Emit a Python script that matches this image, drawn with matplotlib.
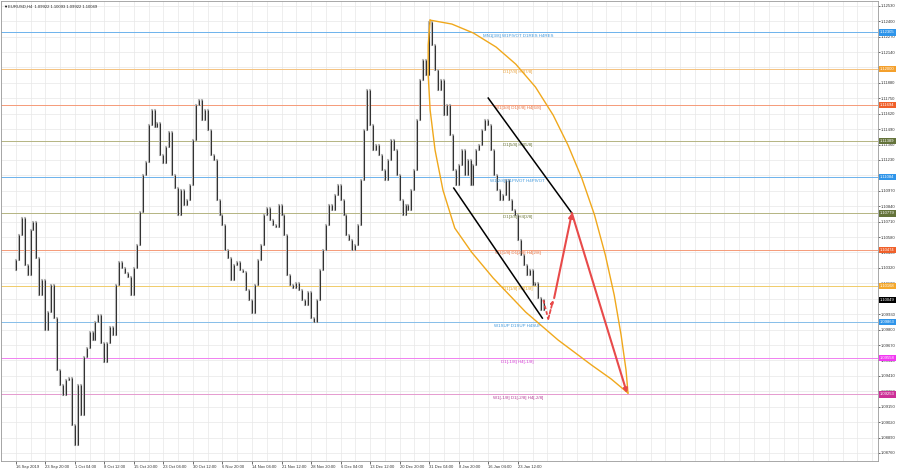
import numpy as np
import matplotlib.pyplot as plt
from matplotlib import transforms

plt.rcParams['font.family'] = ['Liberation Sans', 'DejaVu Sans']

# ---------------- data ----------------
symbol_line = 'EURUSD,H4  1.09922 1.10093 1.09922 1.10049'

first_open = 1.10300
closes = [
    1.10386, 1.10597, 1.10740, 1.10344, 1.10260, 1.10639, 1.10707, 1.10403, 1.10091, 1.10218,
    1.09796, 1.09948, 1.10175, 1.09897, 1.09459, 1.09332, 1.09248, 1.09375, 1.09391, 1.08995,
    1.08827, 1.09332, 1.09080, 1.09569, 1.09644, 1.09779, 1.09712, 1.09864, 1.09923, 1.09687,
    1.09526, 1.09687, 1.09821, 1.09754, 1.10175, 1.10369, 1.10319, 1.10277, 1.10243, 1.10091,
    1.10319, 1.10513, 1.10791, 1.11103, 1.11212, 1.11524, 1.11651, 1.11507, 1.11541, 1.11271,
    1.11204, 1.11339, 1.11465, 1.11103, 1.10993, 1.10766, 1.10976, 1.10850, 1.10892, 1.11018,
    1.11398, 1.11693, 1.11735, 1.11566, 1.11651, 1.11482, 1.11271, 1.11229, 1.10892, 1.10766,
    1.10681, 1.10471, 1.10403, 1.10218, 1.10344, 1.10369, 1.10302, 1.10285, 1.10133, 1.10049,
    1.09939, 1.10175, 1.10386, 1.10513, 1.10766, 1.10825, 1.10723, 1.10681, 1.10664, 1.10850,
    1.10766, 1.10597, 1.10260, 1.10175, 1.10150, 1.10192, 1.10133, 1.10049, 1.10007, 1.10116,
    1.09897, 1.09864, 1.10049, 1.10302, 1.10471, 1.10681, 1.10850, 1.10808, 1.10934, 1.11018,
    1.10892, 1.10766, 1.10597, 1.10555, 1.10471, 1.10513, 1.10681, 1.11061, 1.11482, 1.11819,
    1.11524, 1.11314, 1.11356, 1.11271, 1.11145, 1.11061, 1.11229, 1.11398, 1.11314, 1.11103,
    1.10892, 1.10766, 1.10850, 1.10808, 1.10976, 1.11145, 1.11566, 1.11904, 1.12072, 1.11946,
    1.12393, 1.12199, 1.11988, 1.11819, 1.11904, 1.11609, 1.11693, 1.11440, 1.11145, 1.11018,
    1.11187, 1.11314, 1.11103, 1.11229, 1.11018, 1.11187, 1.11314, 1.11356, 1.11482, 1.11566,
    1.11524, 1.11314, 1.11103, 1.10976, 1.10892, 1.10934, 1.11061, 1.10892, 1.10808, 1.10766,
    1.10555, 1.10428, 1.10344, 1.10260, 1.10302, 1.10175, 1.10192, 1.10066, 1.09965, 1.10049,
]

date_labels = ['16 Sep 2019', '23 Sep 20:00', '1 Oct 04:00', '8 Oct 12:00', '15 Oct 20:00',
               '23 Oct 04:00', '30 Oct 12:00', '6 Nov 20:00', '14 Nov 04:00', '21 Nov 12:00',
               '28 Nov 20:00', '6 Dec 04:00', '13 Dec 12:00', '20 Dec 20:00', '31 Dec 04:00',
               '8 Jan 20:00', '16 Jan 04:00', '23 Jan 12:00']

price_ticks = [1.08760, 1.08890, 1.09020, 1.09150, 1.09280, 1.09410, 1.09540, 1.09670,
               1.09800, 1.09930, 1.10060, 1.10190, 1.10320, 1.10450, 1.10580, 1.10710,
               1.10840, 1.10970, 1.11100, 1.11230, 1.11360, 1.11490, 1.11620, 1.11750,
               1.11880, 1.12010, 1.12140, 1.12270, 1.12400, 1.12530]

levels = [1.12305, 1.12000, 1.11694, 1.11389, 1.11084, 1.10779,
          1.10474, 1.10168, 1.09863, 1.09558, 1.09253]
level_texts = ['MN1[3/8] W1PIVOT D1RES H4RES', 'D1[7/8] H4[7/8]', 'W1[3/8] D1[6/8] H4[6/8]',
               'D1[5/8] H4[5/8]', 'W1[2/8] D1PIVOT H4PIVOT', 'D1[3/8] H4[3/8]',
               'W1[1/8] D1[2/8] H4[2/8]', 'D1[1/8] H4[1/8]', 'W1SUP D1SUP H4SUP',
               'D1[-1/8] H4[-1/8]', 'W1[-1/8] D1[-2/8] H4[-2/8]']
level_line_colors = ['#6cb2ec', '#f5c27e', '#f59a78', '#b4b482', '#6cb2ec', '#b4b482',
                     '#f59a78', '#f0cc6a', '#86bde9', '#f080f0', '#e59acf']
level_text_colors = ['#3d97dc', '#e9a23c', '#e8703e', '#6f7a3e', '#3d97dc', '#6f7a3e',
                     '#e8703e', '#e2a434', '#3d97dc', '#d63ad6', '#b43c96']
level_tag_colors = ['#2f95ea', '#f4a02c', '#f0602a', '#64733a', '#2f95ea', '#64733a',
                    '#f0602a', '#f4a82c', '#2f95ea', '#f238f2', '#cc2f97']
last_price = 1.10049

# objects drawn on the chart, in (bar index, price)
channel_upper_x = [160.0, 188.33]
channel_upper_p = [1.11752, 1.10782]
channel_lower_x = [148.33, 178.33]
channel_lower_p = [1.10993, 1.09897]

arc_outer_x = [140.33, 147.67, 155.0, 162.67, 169.33, 176.0, 182.0, 187.0, 191.67,
               196.0, 199.67, 202.67, 205.0, 206.67, 207.33]
arc_outer_p = [1.12409, 1.12376, 1.12300, 1.12182, 1.12038, 1.11845, 1.11608, 1.11356, 1.11078,
               1.10766, 1.10428, 1.10091, 1.09754, 1.09459, 1.09265]
arc_inner_x = [140.33, 139.67, 139.67, 140.33, 142.0, 144.67, 148.67, 154.33, 161.67,
               172.67, 183.67, 195.0, 201.67, 207.33]
arc_inner_p = [1.12409, 1.12199, 1.11946, 1.11651, 1.11313, 1.10976, 1.10656, 1.10454, 1.10235,
               1.09948, 1.09712, 1.09501, 1.09383, 1.09265]

forecast_dash_x = [178.67, 180.33, 182.0]
forecast_dash_p = [1.10049, 1.09889, 1.10049]
forecast_x = [182.33, 188.33, 207.0]
forecast_p = [1.10066, 1.10782, 1.09265]

# ---------------- figure ----------------
fig = plt.figure(figsize=(9, 4.7), dpi=100)
ax = fig.add_axes([0.0011, 0.0191, 0.9739, 0.9787])
ax.set_xlim(-0.33, 291.83)
ax.set_ylim(1.08692, 1.12570)

# grid
ax.set_xticks(np.arange(0, len(date_labels) * 10, 10))
ax.set_xticklabels(date_labels)
ax.set_xticks(np.arange(-5, 295, 5), minor=True)
ax.grid(which='both', axis='x', color='#e8e8e8', lw=0.5)
ax.grid(which='major', axis='y', color='#e8e8e8', lw=0.5)
ax.set_axisbelow(True)

for lbl in ax.get_xticklabels():
    lbl.set_horizontalalignment('left')
ax.tick_params(axis='x', which='major', length=2, width=0.5, pad=1, labelsize=3, colors='#333333')
ax.tick_params(axis='x', which='minor', length=0)

ax.yaxis.tick_right()
ax.set_yticks(price_ticks)
ax.set_yticklabels([f'{t:.5f}' for t in price_ticks])
ax.tick_params(axis='y', length=1.5, width=0.5, pad=1, labelsize=3, colors='#333333')

for s in ax.spines.values():
    s.set_color('#9a9a9a')
    s.set_linewidth(0.6)

# level lines + texts + tags
tag_trans = transforms.blended_transform_factory(ax.transAxes, ax.transData)
for lv, txt, lc, tc, gc in zip(levels, level_texts, level_line_colors,
                               level_text_colors, level_tag_colors):
    ax.axhline(lv, color=lc, lw=0.7, zorder=1.8)
    ax.annotate(txt, (170, lv), xytext=(0, -1), textcoords='offset points',
                ha='center', va='top', fontsize=3.2, color=tc, zorder=4)
    ax.text(1.003, lv, f'{lv:.5f}', transform=tag_trans, ha='left', va='center',
            fontsize=3, color='white', zorder=6,
            bbox=dict(boxstyle='square,pad=0.25', fc=gc, ec='none'))

ax.text(1.003, last_price, f'{last_price:.5f}', transform=tag_trans, ha='left',
        va='center', fontsize=3, color='white', zorder=6,
        bbox=dict(boxstyle='square,pad=0.25', fc='black', ec='none'))

# candles (open = previous close)
x = np.arange(len(closes))
opens = [first_open] + closes[:-1]
ax.vlines(x, opens, closes, color='#b8b8b8', lw=1.5, capstyle='projecting', zorder=2)
ax.vlines(x, opens, closes, color='#333333', lw=0.75, zorder=3)

# ellipse arcs
ax.plot(arc_outer_x, arc_outer_p, color='#f0a81c', lw=1.0, zorder=4, solid_joinstyle='round')
ax.plot(arc_inner_x, arc_inner_p, color='#f0a81c', lw=1.0, zorder=4, solid_joinstyle='round')

# channel
ax.plot(channel_upper_x, channel_upper_p, color='black', lw=1.1, zorder=4)
ax.plot(channel_lower_x, channel_lower_p, color='black', lw=1.1, zorder=4)

# forecast path
red = '#e84a4a'
ax.plot(forecast_dash_x[:-1], forecast_dash_p[:-1], color=red, lw=1.3,
        ls=(0, (2, 1.2)), zorder=5)
ax.annotate('', xy=(forecast_dash_x[-1], forecast_dash_p[-1]),
            xytext=(forecast_dash_x[-2], forecast_dash_p[-2]),
            arrowprops=dict(arrowstyle='-|>', color=red, lw=1.3, ls=(0, (2, 1.2)),
                            mutation_scale=4, shrinkA=0, shrinkB=0), zorder=5)
for i in range(len(forecast_x) - 1):
    ax.annotate('', xy=(forecast_x[i + 1], forecast_p[i + 1]),
                xytext=(forecast_x[i], forecast_p[i]),
                arrowprops=dict(arrowstyle='-|>', color=red, lw=1.5,
                                mutation_scale=6, shrinkA=0, shrinkB=0), zorder=5)

# symbol header
ax.text(0.003, 0.988, '\u25bc', transform=ax.transAxes, fontsize=3,
        va='center', ha='left', color='black', zorder=7)
ax.text(0.0085, 0.988, symbol_line, transform=ax.transAxes, fontsize=3,
        va='center', ha='left', color='#222222', zorder=7)

fig.savefig('out.png', dpi=100, facecolor='white')
plt.close(fig)
